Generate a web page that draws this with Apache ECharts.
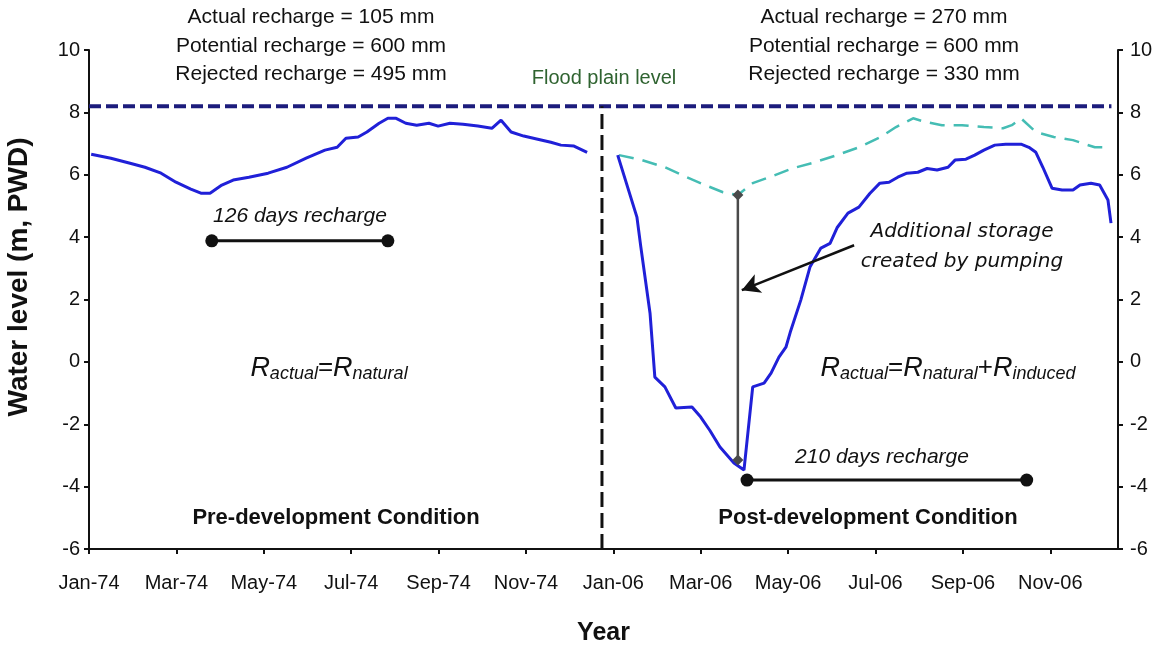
<!DOCTYPE html>
<html>
<head>
<meta charset="utf-8">
<script src="https://cdn.jsdelivr.net/npm/echarts@6/dist/echarts.min.js"></script>
<style>
  html, body { margin: 0; padding: 0; background: #fff; }
  #chart { width: 1158px; height: 645px; }
</style>
</head>
<body>
<div id="chart"></div>
<script>
// Month axis: 0 = Jan-74 ... 12 = Jan-06 (the two years are placed side by side)
const tickValues = [0, 2, 4, 6, 8, 10, 12, 14, 16, 18, 20, 22];
const tickLabels = ['Jan-74', 'Mar-74', 'May-74', 'Jul-74', 'Sep-74', 'Nov-74',
                    'Jan-06', 'Mar-06', 'May-06', 'Jul-06', 'Sep-06', 'Nov-06'];

// Pre-development hydrograph (1974)
const preMonths = [0.05, 0.50, 0.94, 1.28, 1.65, 1.99, 2.33, 2.56, 2.77, 3.04, 3.30, 3.66, 4.10, 4.53, 4.97,
  5.40, 5.68, 5.88, 6.16, 6.36, 6.64, 6.84, 7.03, 7.25, 7.50, 7.78, 7.99, 8.26, 8.56, 8.90, 9.22, 9.43,
  9.66, 9.95, 10.27, 10.57, 10.80, 11.10, 11.40];
const preLevels = [6.66, 6.53, 6.37, 6.24, 6.05, 5.76, 5.54, 5.41, 5.41, 5.67, 5.83, 5.92, 6.05, 6.24, 6.53,
  6.79, 6.88, 7.17, 7.21, 7.37, 7.65, 7.81, 7.81, 7.65, 7.59, 7.65, 7.56, 7.65, 7.62, 7.56, 7.49, 7.75,
  7.37, 7.24, 7.14, 7.04, 6.95, 6.92, 6.72];

// Post-development hydrograph (2006)
const postMonths = [12.10, 12.54, 12.63, 12.84, 12.95, 13.18, 13.43, 13.80, 14.00, 14.21, 14.44, 14.76, 14.99,
  15.19, 15.45, 15.61, 15.79, 15.95, 16.06, 16.29, 16.50, 16.75, 16.96, 17.12, 17.37, 17.62, 17.87, 18.10,
  18.31, 18.51, 18.72, 18.97, 19.18, 19.41, 19.66, 19.82, 20.07, 20.27, 20.48, 20.73, 20.98, 21.33, 21.51,
  21.67, 21.83, 22.04, 22.27, 22.52, 22.68, 22.93, 23.13, 23.32, 23.39];
const postLevels = [6.63, 4.64, 3.68, 1.56, -0.49, -0.80, -1.48, -1.45, -1.77, -2.20, -2.73, -3.24, -3.47,
  -0.80, -0.68, -0.36, 0.15, 0.47, 1.00, 1.98, 3.04, 3.65, 3.80, 4.30, 4.77, 4.96, 5.40, 5.73,
  5.76, 5.92, 6.05, 6.08, 6.20, 6.15, 6.24, 6.47, 6.50, 6.63, 6.79, 6.95, 6.98, 6.98, 6.88,
  6.72, 6.24, 5.57, 5.51, 5.51, 5.67, 5.73, 5.67, 5.19, 4.45];

// Natural (unpumped) hydrograph repeated over 2006
const naturalMonths = [12.13, 12.65, 13.18, 13.68, 14.10, 14.51, 14.85, 15.19, 15.70, 16.11, 16.61, 17.12,
  17.62, 18.12, 18.47, 18.86, 19.15, 19.52, 19.98, 20.48, 20.92, 21.12, 21.33, 21.67, 22.08, 22.52, 23.02, 23.27];
const naturalLevels = [6.63, 6.47, 6.24, 5.92, 5.67, 5.44, 5.35, 5.73, 5.99, 6.21, 6.40, 6.63,
  6.88, 7.21, 7.53, 7.81, 7.69, 7.59, 7.59, 7.53, 7.49, 7.59, 7.81, 7.37, 7.21, 7.11, 6.88, 6.88];

// Reference levels and annotation marks
const floodPlainLevel = 8.2;
const floodPlainSpan = [0, 23.4];
const periodDivider = 11.74;
const recharge1974 = { start: 2.81, end: 6.84, level: 3.88 };
const recharge2006 = { start: 15.06, end: 21.46, level: -3.79 };
const storageGap = { month: 14.85, top: 5.35, bottom: -3.15 };
const storageArrow = { from: [17.51, 3.74], to: [14.94, 2.30] };

const zip = (xs, ys) => xs.map((x, i) => [x, ys[i]]);

const FONT = '"Liberation Sans", Arial, sans-serif';
const TEXT = '#111';
const BLUE = '#2020d8';

const chart = echarts.init(document.getElementById('chart'), null, { renderer: 'canvas' });

const yAxisBase = {
  type: 'value', min: -6, max: 10, interval: 2,
  axisLine: { show: true, onZero: false, lineStyle: { color: '#111', width: 2 } },
  axisTick: { show: true, inside: false, length: 5, lineStyle: { color: '#111', width: 2 } },
  splitLine: { show: false },
  axisLabel: { color: TEXT, fontFamily: FONT, fontSize: 20 }
};

const lineBase = { type: 'line', showSymbol: false, symbol: 'none', animation: false, silent: true };

const option = {
  animation: false,
  backgroundColor: '#fff',
  grid: { left: 89, right: 40, top: 50, bottom: 96, containLabel: false, outerBoundsMode: 'none' },
  xAxis: {
    type: 'value', min: 0, max: 23.55, interval: 2,
    name: 'Year', nameLocation: 'middle', nameGap: 72,
    nameTextStyle: { fontFamily: FONT, fontSize: 25, fontWeight: 'bold', color: TEXT },
    axisLine: { show: true, onZero: false, lineStyle: { color: '#111', width: 2 } },
    axisTick: { show: true, length: 5, customValues: tickValues, lineStyle: { color: '#111', width: 2 } },
    splitLine: { show: false },
    axisLabel: {
      customValues: tickValues, margin: 24, color: TEXT, fontFamily: FONT, fontSize: 20,
      formatter: v => tickLabels[tickValues.indexOf(Math.round(v))] || ''
    }
  },
  yAxis: [
    Object.assign({}, yAxisBase, {
      position: 'left',
      axisLabel: Object.assign({}, yAxisBase.axisLabel, { margin: 9 })
    }),
    Object.assign({}, yAxisBase, {
      position: 'right',
      axisLabel: Object.assign({}, yAxisBase.axisLabel, { margin: 12 })
    })
  ],
  series: [
    Object.assign({}, lineBase, {
      name: 'Flood plain level',
      data: floodPlainSpan.map(m => [m, floodPlainLevel]),
      lineStyle: { color: '#1c1c7c', width: 4, type: [12, 5] }, z: 2
    }),
    Object.assign({}, lineBase, {
      name: 'Period divider',
      data: [[periodDivider, -6], [periodDivider, floodPlainLevel]],
      lineStyle: { color: '#111', width: 3, type: [15, 6] }, z: 2
    }),
    Object.assign({}, lineBase, {
      name: 'Natural 2006',
      data: zip(naturalMonths, naturalLevels),
      lineStyle: { color: '#45bdb4', width: 2.5, type: [15, 9] }, z: 3
    }),
    Object.assign({}, lineBase, {
      name: 'Pre-development 1974',
      data: zip(preMonths, preLevels),
      lineStyle: { color: BLUE, width: 3 }, z: 4
    }),
    Object.assign({}, lineBase, {
      name: 'Post-development 2006',
      data: zip(postMonths, postLevels),
      lineStyle: { color: BLUE, width: 3 }, z: 4
    }),
    Object.assign({}, lineBase, {
      name: 'Storage created',
      showSymbol: true, symbol: 'diamond', symbolSize: 11,
      data: [[storageGap.month, storageGap.top], [storageGap.month, storageGap.bottom]],
      itemStyle: { color: '#4a4a4a' },
      lineStyle: { color: '#4a4a4a', width: 2.5 }, z: 5,
      markLine: {
        silent: true, animation: false,
        symbol: ['none', 'arrow'], symbolSize: [15, 18],
        label: { show: false },
        lineStyle: { color: '#111', width: 2.5, type: 'solid' },
        data: [[{ coord: storageArrow.from }, { coord: storageArrow.to }]]
      }
    }),
    Object.assign({}, lineBase, {
      name: '126 days recharge',
      showSymbol: true, symbol: 'circle', symbolSize: 13,
      data: [[recharge1974.start, recharge1974.level], [recharge1974.end, recharge1974.level]],
      itemStyle: { color: '#111' },
      lineStyle: { color: '#111', width: 3 }, z: 6
    }),
    Object.assign({}, lineBase, {
      name: '210 days recharge',
      showSymbol: true, symbol: 'circle', symbolSize: 13,
      data: [[recharge2006.start, recharge2006.level], [recharge2006.end, recharge2006.level]],
      itemStyle: { color: '#111' },
      lineStyle: { color: '#111', width: 3 }, z: 6
    })
  ]
};

chart.setOption(option);

// Text annotations
const txt = (x, y, text, font, fill, extra) => ({
  type: 'text', x, y, z: 20, silent: true,
  style: Object.assign({ text, font, fill: fill || TEXT, align: 'center', verticalAlign: 'middle' }, extra || {})
});

const eqRich = {
  R: { font: 'italic 27px ' + FONT, fill: TEXT },
  e: { font: '26px ' + FONT, fill: TEXT },
  s: { font: 'italic 18px ' + FONT, fill: TEXT, padding: [12, 0, 0, 0] }
};

chart.setOption({
  graphic: [
    Object.assign(txt(19, 277, 'Water level (m, PWD)', 'bold 28px ' + FONT), { rotation: Math.PI / 2 }),
    txt(311, 17, 'Actual recharge = 105 mm', '21px ' + FONT),
    txt(311, 46, 'Potential recharge = 600 mm', '21px ' + FONT),
    txt(311, 74, 'Rejected recharge = 495 mm', '21px ' + FONT),
    txt(884, 17, 'Actual recharge = 270 mm', '21px ' + FONT),
    txt(884, 46, 'Potential recharge = 600 mm', '21px ' + FONT),
    txt(884, 74, 'Rejected recharge = 330 mm', '21px ' + FONT),
    txt(604, 78, 'Flood plain level', '20px ' + FONT, '#2f6330'),
    txt(300, 216, '126 days recharge', 'italic 21px ' + FONT),
    txt(882, 457, '210 days recharge', 'italic 21px ' + FONT),
    txt(962, 232, 'Additional storage', 'italic 20px "DejaVu Sans", sans-serif'),
    txt(962, 262, 'created by pumping', 'italic 20px "DejaVu Sans", sans-serif'),
    txt(336, 518, 'Pre-development Condition', 'bold 22px ' + FONT),
    txt(868, 518, 'Post-development Condition', 'bold 22px ' + FONT),
    {
      type: 'text', x: 329, y: 368, z: 20, silent: true,
      style: { text: '{R|R}{s|actual}{e|=}{R|R}{s|natural}', rich: eqRich, align: 'center', verticalAlign: 'middle' }
    },
    {
      type: 'text', x: 948, y: 368, z: 20, silent: true,
      style: { text: '{R|R}{s|actual}{e|=}{R|R}{s|natural}{e|+}{R|R}{s|induced}', rich: eqRich, align: 'center', verticalAlign: 'middle' }
    }
  ]
});
</script>
</body>
</html>
